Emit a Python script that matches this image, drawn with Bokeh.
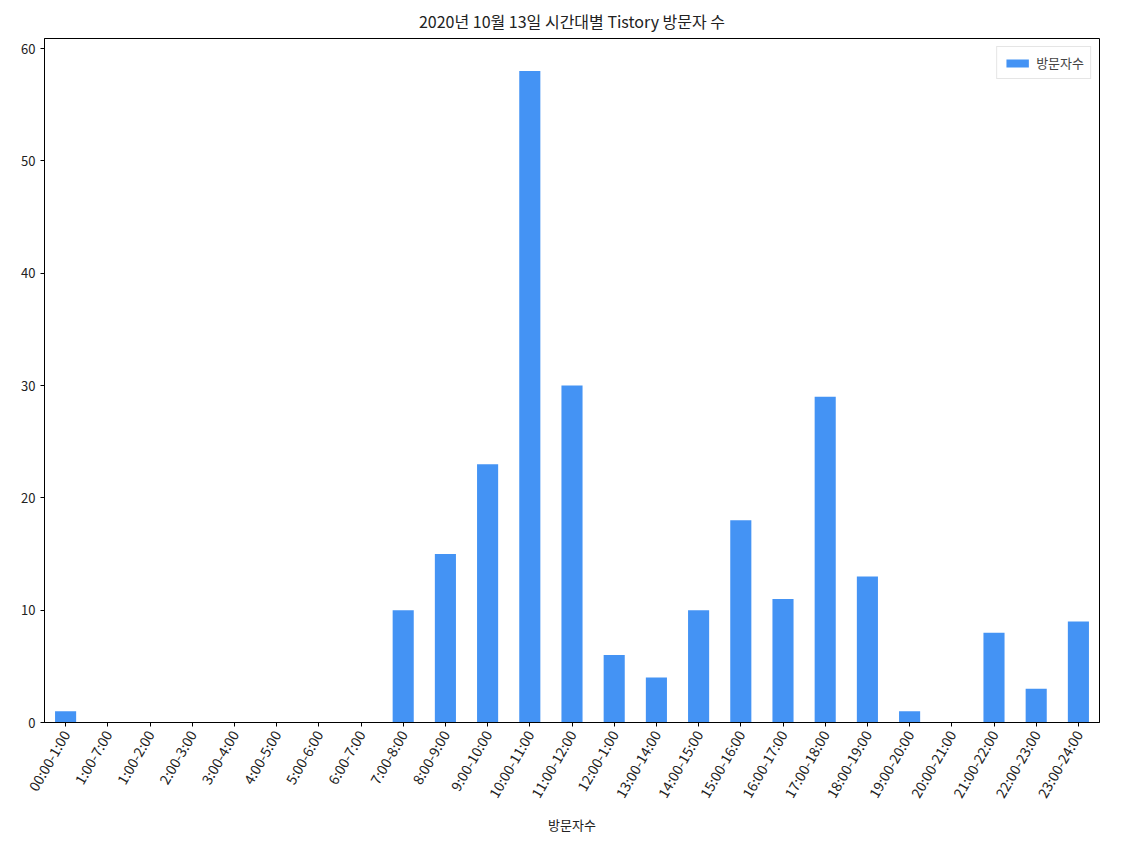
import math
from bokeh.plotting import figure
from bokeh.models import FactorRange, Range1d, ColumnDataSource, Legend, LegendItem, SingleIntervalTicker
from bokeh.embed import file_html
from bokeh.resources import INLINE

time_slots = ["00:00-1:00", "1:00-7:00", "1:00-2:00", "2:00-3:00", "3:00-4:00", "4:00-5:00",
              "5:00-6:00", "6:00-7:00", "7:00-8:00", "8:00-9:00", "9:00-10:00", "10:00-11:00",
              "11:00-12:00", "12:00-1:00", "13:00-14:00", "14:00-15:00", "15:00-16:00",
              "16:00-17:00", "17:00-18:00", "18:00-19:00", "19:00-20:00", "20:00-21:00",
              "21:00-22:00", "22:00-23:00", "23:00-24:00"]
visitors = [1, 0, 0, 0, 0, 0, 0, 0, 10, 15, 23, 58, 30, 6, 4, 10, 18, 11, 29, 13, 1, 0, 8, 3, 9]

FONT = "Noto Sans CJK KR"

src = ColumnDataSource(dict(x=time_slots, y=visitors))

p = figure(x_range=FactorRange(*time_slots), y_range=Range1d(0, 60.9),
           frame_width=1055, frame_height=684, min_border_left=44, min_border_right=30,
           min_border_top=32, min_border_bottom=10,
           output_backend="svg", toolbar_location=None,
           title="2020년 10월 13일 시간대별 Tistory 방문자 수")
p.title.align = "center"
p.title.text_font = FONT
p.title.text_font_size = "16px"
p.title.text_font_style = "normal"
p.title.text_color = "#222222"
p.title.standoff = 12

r = p.vbar(x="x", top="y", width=0.5, source=src, fill_color="#4493F4", line_color=None)

p.xgrid.grid_line_color = None
p.ygrid.grid_line_color = None
p.outline_line_color = "black"
p.outline_line_alpha = 1.0

p.yaxis.ticker = SingleIntervalTicker(interval=10)
p.yaxis.minor_tick_line_color = None
for ax in (p.xaxis[0], p.yaxis[0]):
    ax.major_tick_in = 0
    ax.major_tick_out = 4
    ax.axis_line_color = "black"
    ax.major_tick_line_color = "black"
    ax.major_label_text_font = FONT
    ax.major_label_text_font_size = "13px"
    ax.major_label_text_color = "#222222"

p.xaxis.major_label_text_font_size = "14px"
p.xaxis.major_label_orientation = math.pi / 3
p.xaxis.axis_label = "방문자수"
p.xaxis.axis_label_text_font = FONT
p.xaxis.axis_label_text_font_size = "13px"
p.xaxis.axis_label_text_font_style = "normal"
p.xaxis.axis_label_text_color = "#222222"
p.xaxis.axis_label_standoff = 6

legend = Legend(items=[LegendItem(label="방문자수", renderers=[r])], location="top_right")
legend.label_text_font = FONT
legend.label_text_font_size = "13px"
legend.border_line_color = "#cccccc"
legend.glyph_width = 28
legend.glyph_height = 10
legend.margin = 8
legend.padding = 6
p.add_layout(legend)

open("out.html", "w").write(file_html(p, INLINE))
